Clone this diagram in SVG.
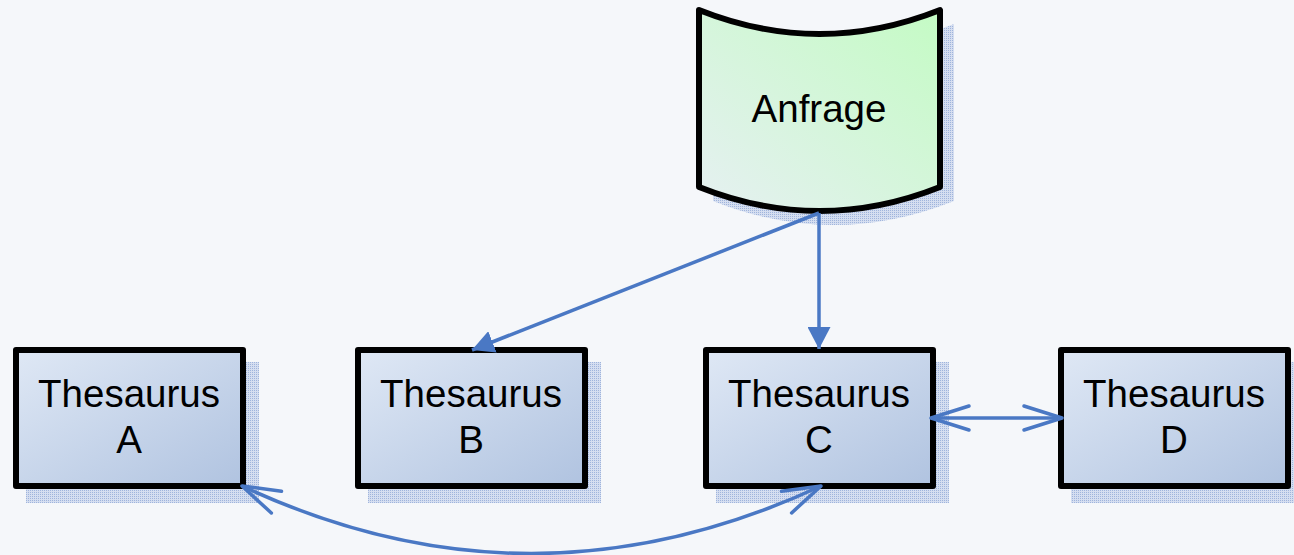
<svg xmlns="http://www.w3.org/2000/svg" width="1294" height="555" viewBox="0 0 1294 555">
  <style>
    .box { stroke: #000; stroke-width: 6; stroke-linejoin: round; fill: url(#gBlue); }
    .shadow { fill: url(#dots); }
    .lbl { font-family: "Liberation Sans", Arial, sans-serif; font-size: 38.5px; fill: #000; text-anchor: middle; }
    .conn { fill: none; stroke: #4a78c4; stroke-width: 3.5; }
  </style>
  <defs>
    <linearGradient id="gBlue" x1="0" y1="0" x2="1" y2="1">
      <stop offset="0" stop-color="#dfe8f5"/>
      <stop offset="1" stop-color="#b0c3e0"/>
    </linearGradient>
    <linearGradient id="gGreen" x1="1" y1="0" x2="0" y2="1">
      <stop offset="0" stop-color="#c4fbc4"/>
      <stop offset="1" stop-color="#e6f0f2"/>
    </linearGradient>
    <pattern id="dots" width="2" height="2" patternUnits="userSpaceOnUse">
      <rect width="2" height="2" fill="#d5def0"/>
      <rect width="1" height="1" fill="#9fb4dc"/>
    </pattern>
    <marker id="arrFill" viewBox="0 0 22 23" markerWidth="22" markerHeight="23" refX="22" refY="11.5" orient="auto" markerUnits="userSpaceOnUse">
      <path d="M0,0 L22,11.5 L0,23 Z" fill="#4a78c4"/>
    </marker>
    <marker id="arrOpen" viewBox="-42 -15 46 30" markerWidth="46" markerHeight="30" refX="0" refY="0" orient="auto-start-reverse" markerUnits="userSpaceOnUse" overflow="visible">
      <path d="M-38,-12 L0,0 L-38,12" fill="none" stroke="#4a78c4" stroke-width="3.5" stroke-linecap="round" stroke-linejoin="round"/>
    </marker>
  </defs>
  <rect width="1294" height="555" fill="#f5f7fa"/>

  <g id="anfrage">
    <path class="shadow" d="M713,24 Q833.5,72 954,24 L954,201 Q833.5,249 713,201 Z"/>
    <path d="M699,10 Q819.5,58 940,10 L940,187 Q819.5,235 699,187 Z" fill="url(#gGreen)" stroke="#000" stroke-width="6" stroke-linejoin="round"/>
    <text class="lbl" x="819" y="122">Anfrage</text>
  </g>

  <g id="thesaurusA">
    <rect class="shadow" x="26" y="362" width="233" height="141"/>
    <rect class="box" x="16" y="350" width="227" height="136"/>
    <text class="lbl" x="129" y="407">Thesaurus</text>
    <text class="lbl" x="129" y="453">A</text>
  </g>

  <g id="thesaurusB">
    <rect class="shadow" x="368" y="362" width="233" height="141"/>
    <rect class="box" x="358" y="350" width="227" height="136"/>
    <text class="lbl" x="471" y="407">Thesaurus</text>
    <text class="lbl" x="471" y="453">B</text>
  </g>

  <g id="thesaurusC">
    <rect class="shadow" x="716" y="362" width="233" height="141"/>
    <rect class="box" x="706" y="350" width="227" height="136"/>
    <text class="lbl" x="819" y="407">Thesaurus</text>
    <text class="lbl" x="819" y="453">C</text>
  </g>

  <g id="thesaurusD">
    <rect class="shadow" x="1071" y="362" width="233" height="141"/>
    <rect class="box" x="1061" y="350" width="227" height="136"/>
    <text class="lbl" x="1174" y="407">Thesaurus</text>
    <text class="lbl" x="1174" y="453">D</text>
  </g>

  <g id="connectors">
    <path class="conn" d="M819,213 L472,350" marker-end="url(#arrFill)"/>
    <path class="conn" d="M819,213 L819,349" marker-end="url(#arrFill)"/>
    <path class="conn" d="M931,418 L1062,418" marker-start="url(#arrOpen)" marker-end="url(#arrOpen)"/>
    <path class="conn" d="M242,486 Q531,621 821,486" marker-start="url(#arrOpen)" marker-end="url(#arrOpen)"/>
  </g>
</svg>
